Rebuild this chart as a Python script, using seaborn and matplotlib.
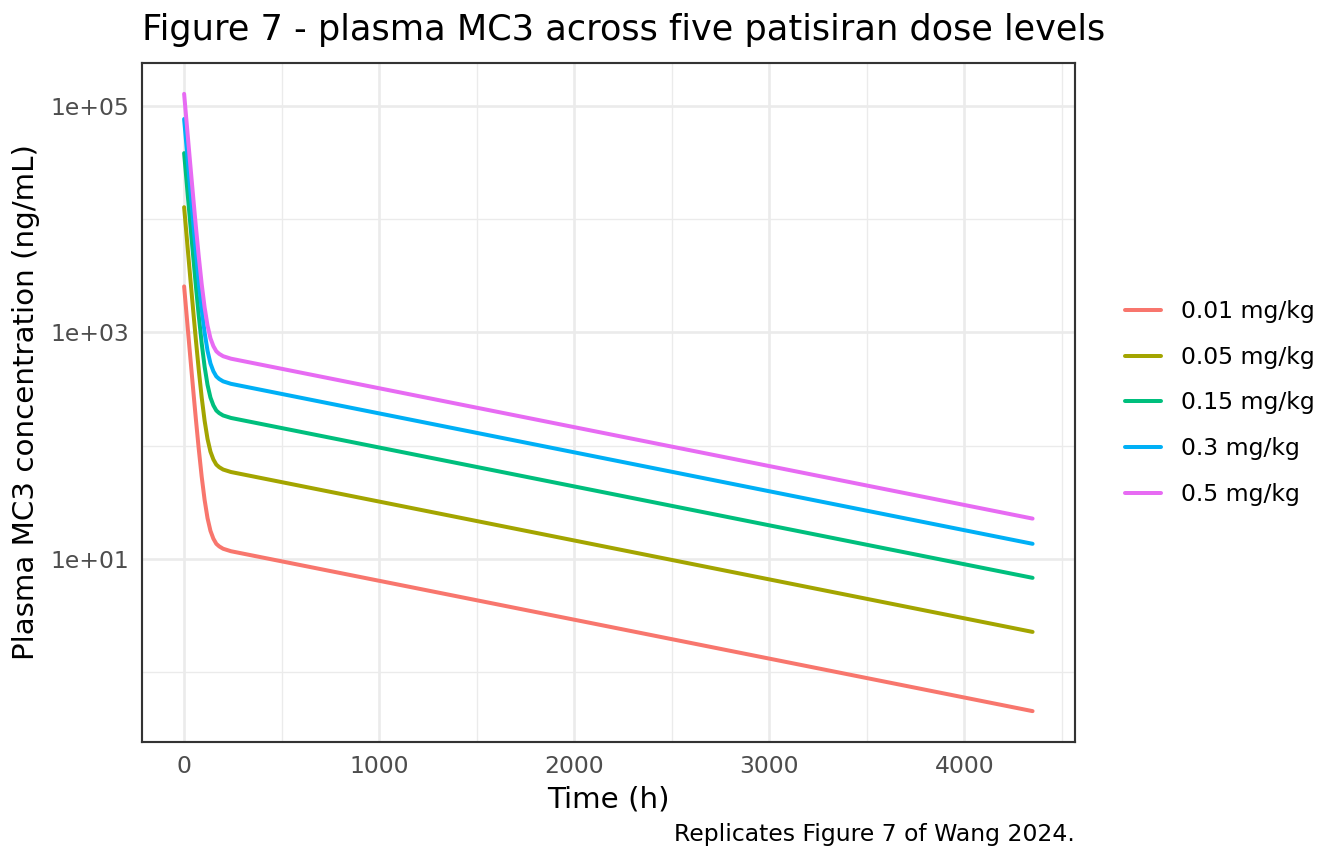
"""Plasma MC3 concentration-time profiles for five patisiran dose levels."""

import matplotlib
matplotlib.use("Agg")
import matplotlib.pyplot as plt
import matplotlib.ticker as mticker
import pandas as pd
import seaborn as sns

# Values (h, ng/mL)
TIME_H = [0, 10, 20, 30, 40, 50, 60, 75, 90, 105, 120, 135, 150, 165, 180,
          200, 240, 4350]
DOSE_LABELS = ["0.01 mg/kg", "0.05 mg/kg", "0.15 mg/kg", "0.3 mg/kg",
               "0.5 mg/kg"]
CONC_001 = [2540, 1609, 1020, 649, 415, 267, 173, 93.5, 53.3, 33.2, 22.9,
            17.7, 15.1, 13.6, 12.9, 12.3, 11.7, 0.454]
CONC_005 = [12700, 8045, 5100, 3245, 2075, 1335, 865, 467.5, 266.5, 166,
            114.5, 88.5, 75.5, 68, 64.5, 61.5, 58.5, 2.27]
CONC_015 = [38100, 24135, 15300, 9735, 6225, 4005, 2595, 1402.5, 799.5, 498,
            343.5, 265.5, 226.5, 204, 193.5, 184.5, 175.5, 6.81]
CONC_03 = [76200, 48270, 30600, 19470, 12450, 8010, 5190, 2805, 1599, 996,
           687, 531, 453, 408, 387, 369, 351, 13.6]
CONC_05 = [127000, 80450, 51000, 32450, 20750, 13350, 8650, 4675, 2665, 1660,
           1145, 885, 755, 680, 645, 615, 585, 22.7]

PALETTE = ["#F8766D", "#A3A500", "#00BF7D", "#00B0F6", "#E76BF3"]

sns.set_style("white")
plt.rcParams["font.family"] = ["DejaVu Sans"]
plt.rcParams["text.color"] = "black"
plt.rcParams["axes.labelcolor"] = "black"

series = [CONC_001, CONC_005, CONC_015, CONC_03, CONC_05]
frames = [pd.DataFrame({"time": TIME_H, "conc": vals, "dose": lab})
          for lab, vals in zip(DOSE_LABELS, series)]
df = pd.concat(frames, ignore_index=True)

fig = plt.figure(figsize=(7, 4.5), dpi=192)
ax = fig.add_axes([141.7 / 1344, 1 - 742 / 864, (1075 - 141.7) / 1344,
                   (742 - 63) / 864])

sns.lineplot(data=df, x="time", y="conc", hue="dose", hue_order=DOSE_LABELS,
             palette=PALETTE, linewidth=1.5, ax=ax, estimator=None,
             sort=False)
ax.set_yscale("log")
ax.margins(x=0.05, y=0.05)

# theme_bw-like look
ax.set_facecolor("white")
for sp in ax.spines.values():
    sp.set_color("#333333")
    sp.set_linewidth(0.8)
ax.yaxis.set_major_locator(mticker.FixedLocator([10, 1e3, 1e5]))
ax.yaxis.set_minor_locator(mticker.FixedLocator([1, 1e2, 1e4]))
ax.yaxis.set_major_formatter(mticker.FuncFormatter(lambda v, p: f"{v:.0e}"))
ax.yaxis.set_minor_formatter(mticker.NullFormatter())
ax.xaxis.set_major_locator(mticker.MultipleLocator(1000))
ax.xaxis.set_minor_locator(mticker.MultipleLocator(500))
ax.grid(which="major", color="#EBEBEB", linewidth=1.0)
ax.grid(which="minor", color="#EBEBEB", linewidth=0.5)
ax.set_axisbelow(True)
ax.tick_params(which="major", length=2.75, width=0.8, color="#333333",
               labelsize=8.8, labelcolor="#4D4D4D", pad=2)
ax.tick_params(which="minor", length=0)

ax.set_xlabel("Time (h)", fontsize=11, labelpad=3)
ax.set_ylabel("Plasma MC3 concentration (ng/mL)", fontsize=11, labelpad=4)

handles, labels = ax.get_legend_handles_labels()
ax.legend(handles, labels, loc="center left", frameon=False, fontsize=8.8,
          bbox_to_anchor=(1116 / 1344, 1 - 403 / 864),
          bbox_transform=fig.transFigure, handlelength=1.5,
          labelspacing=0.97, handletextpad=0.85, borderaxespad=0)

fig.text(141.7 / 1344, 1 - 30 / 864,
         "Figure 7 - plasma MC3 across five patisiran dose levels",
         fontsize=13.2, ha="left", va="center")
fig.text(1075 / 1344, 1 - 834 / 864, "Replicates Figure 7 of Wang 2024.",
         fontsize=8.8, ha="right", va="center")

fig.savefig("out.png", dpi=192)
